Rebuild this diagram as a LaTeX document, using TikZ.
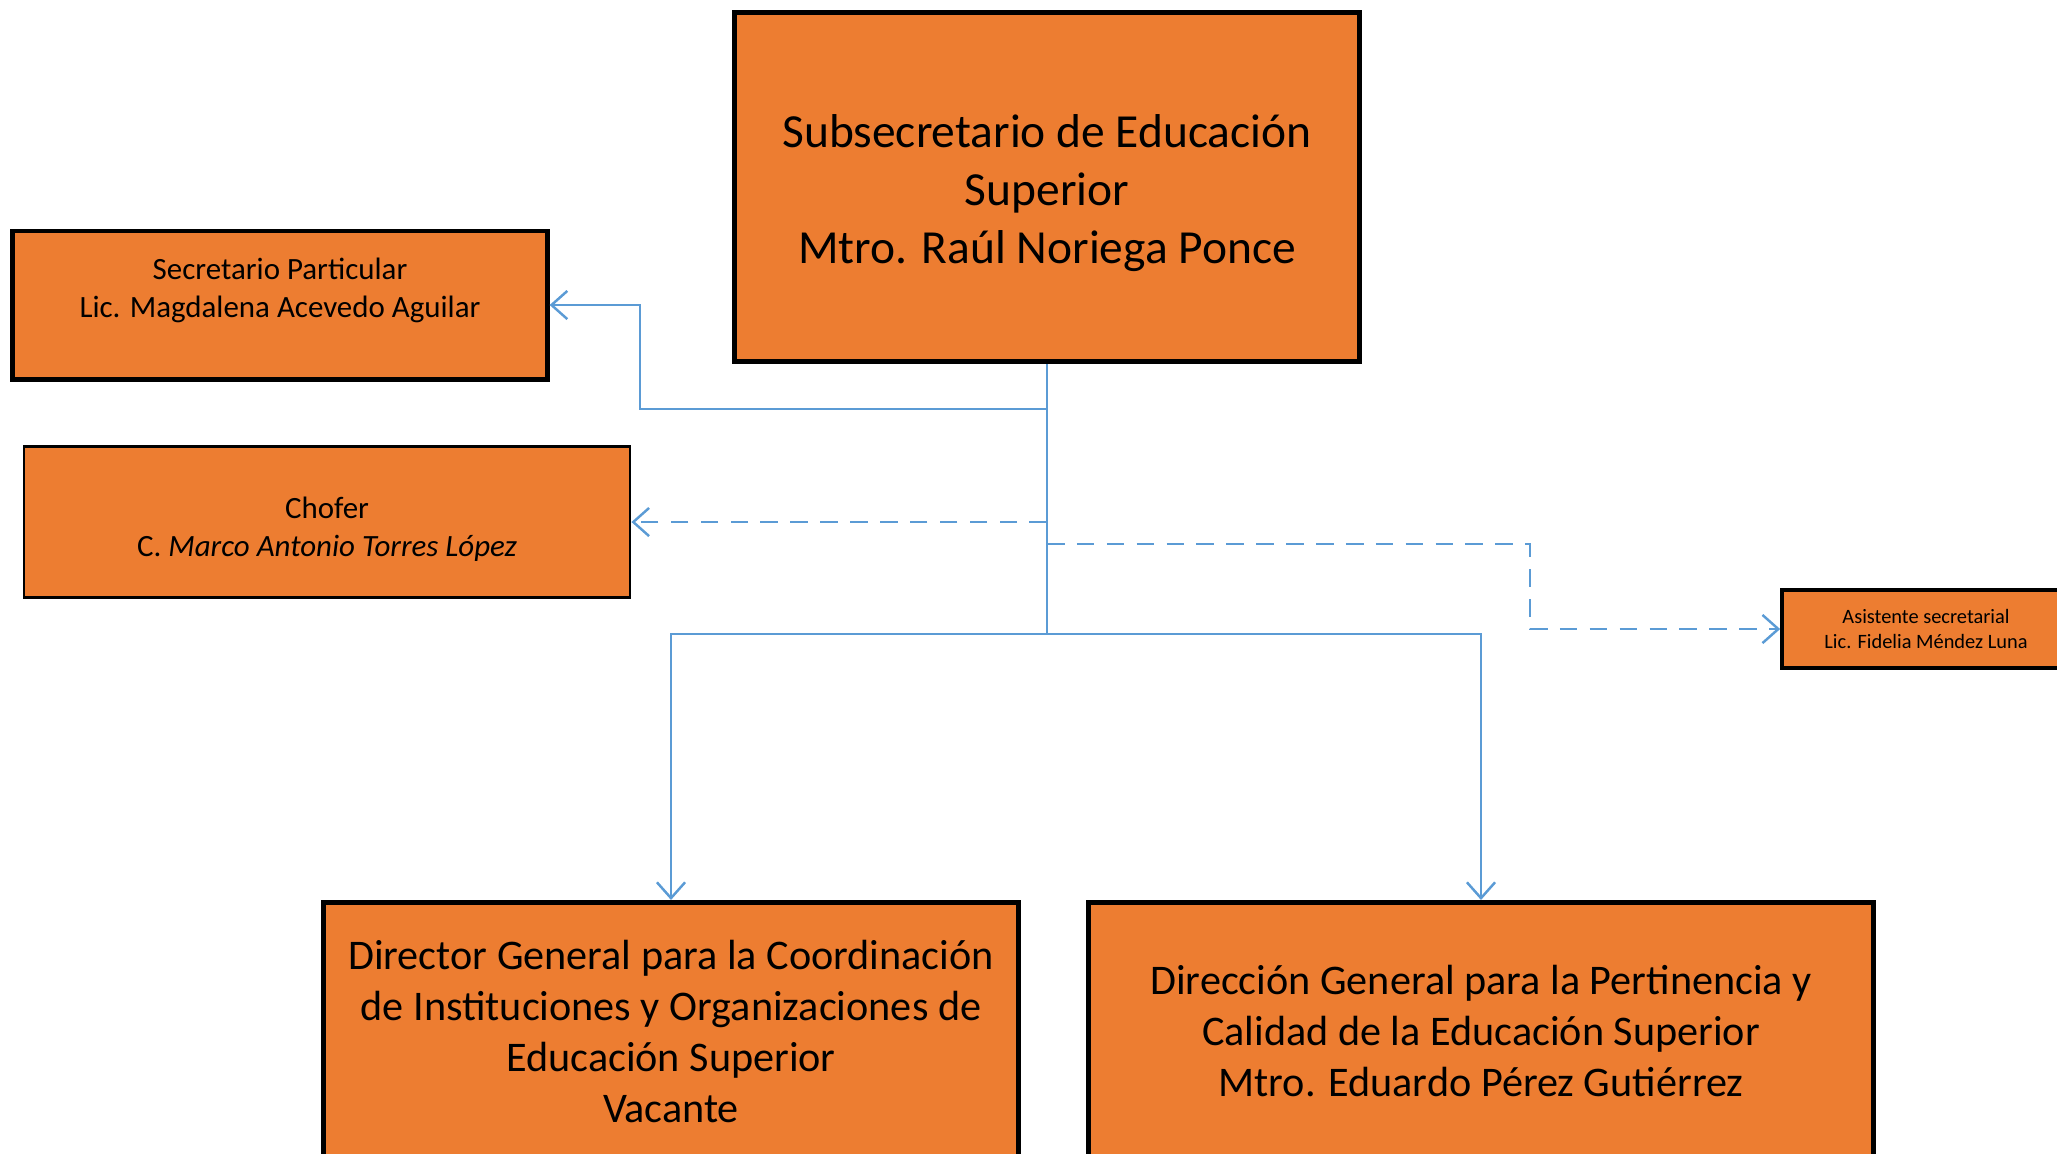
\documentclass[tikz,border=0pt]{standalone}
\usepackage{fontspec}
\setmainfont{Carlito}
\usetikzlibrary{arrows.meta}
\definecolor{boxorange}{HTML}{ED7D31}
\definecolor{lineblue}{HTML}{5B9BD5}
\begin{document}
\begin{tikzpicture}[x=0.01cm,y=-0.01cm,
  unit/.style={shape=rectangle,draw=black,fill=boxorange,align=center,inner sep=0pt},
  heavy/.style={unit,line width=1.4pt},
  light/.style={unit,line width=0.7pt},
  link/.style={draw=lineblue,line width=0.7pt,-{Straight Barb[length=4.5pt,width=8pt]}},
  aux/.style={link,dash pattern=on 5pt off 3.5pt}]
\useasboundingbox (0,0) rectangle (2057,1153);
\node(sub) at (1047,187)[heavy,minimum width=6.25cm,minimum height=3.49cm,
  font=\fontsize{13.5}{16.5}\selectfont]
  {\rule{0pt}{13pt}Subsecretario de Educación\\Superior\\Mtro. Raúl Noriega Ponce};
\node(sec) at (280,305)[heavy,minimum width=5.34cm,minimum height=1.48cm,
  font=\fontsize{8.8}{10.8}\selectfont]
  {Secretario Particular\\Lic. Magdalena Acevedo Aguilar\\[-4pt] \strut};
\node(chofer) at (327,522)[light,minimum width=6.06cm,minimum height=1.51cm,
  font=\fontsize{8.8}{10.8}\selectfont]
  {\rule{0pt}{10pt}Chofer\\C. \textit{Marco Antonio Torres López}};
\node(asis) at (1926,629)[unit,line width=1pt,minimum width=2.88cm,minimum height=0.78cm,
  font=\fontsize{5.8}{7.1}\selectfont]
  {Asistente secretarial\\Lic. Fidelia Méndez Luna};
\node(dir1) at (671,1031)[heavy,minimum width=6.95cm,minimum height=2.57cm,
  font=\fontsize{12}{14.5}\selectfont]
  {Director General para la Coordinación\\de Instituciones y Organizaciones de\\Educación Superior\\Vacante};
\node(dir2) at (1481,1031)[heavy,minimum width=7.84cm,minimum height=2.57cm,
  font=\fontsize{12}{14.5}\selectfont]
  {Dirección General para la Pertinencia y\\Calidad de la Educación Superior\\Mtro. Eduardo Pérez Gutiérrez};
% junctions on the main line
\coordinate(jsec) at (1047,409);
\coordinate(bsec) at (640,409);
\coordinate(jcho) at (1047,522);
\coordinate(jasi) at (1047,544);
\coordinate(basi) at (1530,544);
\coordinate(jdir) at (1047,634);
\draw[draw=lineblue,line width=0.7pt] (sub.south) -- (jdir);
\draw[link] (jsec) -- (bsec) |- (sec.east);
\draw[aux] (jcho) -- (chofer.east);
\draw[aux] (jasi) -- (basi) |- (asis.west);
\draw[link] (jdir) -| (dir1.north);
\draw[link] (jdir) -| (dir2.north);
\end{tikzpicture}
\end{document}
